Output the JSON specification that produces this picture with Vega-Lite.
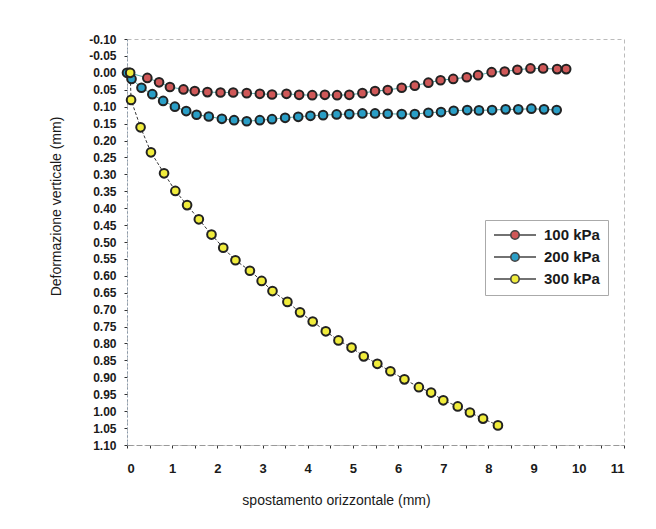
{
  "$schema": "https://vega.github.io/schema/vega-lite/v6.json",
  "width": 497,
  "height": 406,
  "autosize": {"type": "none"},
  "padding": {"left": 127, "top": 39, "right": 32, "bottom": 84},
  "background": "white",
  "config": {
    "font": "Liberation Sans",
    "view": {"stroke": "#bbbbbb", "strokeDash": [4, 3], "strokeWidth": 1},
    "axis": {"grid": false, "labelFont": "Liberation Sans", "labelColor": "#1a1a1a", "labelFontWeight": "bold", "titleFont": "Liberation Sans", "titleColor": "#1a1a1a", "titleFontWeight": "normal", "labelFontSize": 12, "titleFontSize": 14, "tickColor": "#333", "tickSize": 3, "domainColor": "#8899aa", "domainDash": [2, 2]}
  },
  "data": {"values": [
    {"s": "100 kPa", "x": 0.05, "y": 0.0},
    {"s": "100 kPa", "x": 0.45, "y": 0.015},
    {"s": "100 kPa", "x": 0.71, "y": 0.028},
    {"s": "100 kPa", "x": 0.95, "y": 0.042},
    {"s": "100 kPa", "x": 1.25, "y": 0.049},
    {"s": "100 kPa", "x": 1.5, "y": 0.054},
    {"s": "100 kPa", "x": 1.78, "y": 0.057},
    {"s": "100 kPa", "x": 2.07, "y": 0.058},
    {"s": "100 kPa", "x": 2.35, "y": 0.058},
    {"s": "100 kPa", "x": 2.65, "y": 0.06},
    {"s": "100 kPa", "x": 2.94, "y": 0.062},
    {"s": "100 kPa", "x": 3.21, "y": 0.064},
    {"s": "100 kPa", "x": 3.53, "y": 0.062},
    {"s": "100 kPa", "x": 3.81, "y": 0.065},
    {"s": "100 kPa", "x": 4.1, "y": 0.066},
    {"s": "100 kPa", "x": 4.38, "y": 0.065},
    {"s": "100 kPa", "x": 4.65, "y": 0.066},
    {"s": "100 kPa", "x": 4.92, "y": 0.065},
    {"s": "100 kPa", "x": 5.21, "y": 0.06},
    {"s": "100 kPa", "x": 5.49, "y": 0.054},
    {"s": "100 kPa", "x": 5.77, "y": 0.051},
    {"s": "100 kPa", "x": 6.08, "y": 0.044},
    {"s": "100 kPa", "x": 6.37, "y": 0.038},
    {"s": "100 kPa", "x": 6.67, "y": 0.029},
    {"s": "100 kPa", "x": 6.94, "y": 0.022},
    {"s": "100 kPa", "x": 7.22, "y": 0.018},
    {"s": "100 kPa", "x": 7.52, "y": 0.013},
    {"s": "100 kPa", "x": 7.77, "y": 0.007},
    {"s": "100 kPa", "x": 8.07, "y": -0.002},
    {"s": "100 kPa", "x": 8.36, "y": -0.004},
    {"s": "100 kPa", "x": 8.64, "y": -0.009},
    {"s": "100 kPa", "x": 8.93, "y": -0.013},
    {"s": "100 kPa", "x": 9.21, "y": -0.013},
    {"s": "100 kPa", "x": 9.52, "y": -0.011},
    {"s": "100 kPa", "x": 9.72, "y": -0.011},
    {"s": "200 kPa", "x": 0.0, "y": 0.0},
    {"s": "200 kPa", "x": 0.1, "y": 0.018},
    {"s": "200 kPa", "x": 0.32, "y": 0.044},
    {"s": "200 kPa", "x": 0.56, "y": 0.063},
    {"s": "200 kPa", "x": 0.8, "y": 0.083},
    {"s": "200 kPa", "x": 1.06, "y": 0.1},
    {"s": "200 kPa", "x": 1.31, "y": 0.113},
    {"s": "200 kPa", "x": 1.54, "y": 0.124},
    {"s": "200 kPa", "x": 1.81, "y": 0.129},
    {"s": "200 kPa", "x": 2.1, "y": 0.136},
    {"s": "200 kPa", "x": 2.37, "y": 0.14},
    {"s": "200 kPa", "x": 2.65, "y": 0.143},
    {"s": "200 kPa", "x": 2.94, "y": 0.14},
    {"s": "200 kPa", "x": 3.21, "y": 0.137},
    {"s": "200 kPa", "x": 3.5, "y": 0.133},
    {"s": "200 kPa", "x": 3.79, "y": 0.13},
    {"s": "200 kPa", "x": 4.06, "y": 0.127},
    {"s": "200 kPa", "x": 4.34, "y": 0.125},
    {"s": "200 kPa", "x": 4.64, "y": 0.123},
    {"s": "200 kPa", "x": 4.92, "y": 0.122},
    {"s": "200 kPa", "x": 5.21, "y": 0.12},
    {"s": "200 kPa", "x": 5.49, "y": 0.12},
    {"s": "200 kPa", "x": 5.77, "y": 0.121},
    {"s": "200 kPa", "x": 6.08, "y": 0.122},
    {"s": "200 kPa", "x": 6.37, "y": 0.122},
    {"s": "200 kPa", "x": 6.67, "y": 0.118},
    {"s": "200 kPa", "x": 6.95, "y": 0.116},
    {"s": "200 kPa", "x": 7.23, "y": 0.112},
    {"s": "200 kPa", "x": 7.53, "y": 0.11},
    {"s": "200 kPa", "x": 7.79, "y": 0.111},
    {"s": "200 kPa", "x": 8.08, "y": 0.11},
    {"s": "200 kPa", "x": 8.38, "y": 0.108},
    {"s": "200 kPa", "x": 8.66, "y": 0.108},
    {"s": "200 kPa", "x": 8.95, "y": 0.106},
    {"s": "200 kPa", "x": 9.23, "y": 0.108},
    {"s": "200 kPa", "x": 9.51, "y": 0.11},
    {"s": "300 kPa", "x": 0.07, "y": 0.0},
    {"s": "300 kPa", "x": 0.09, "y": 0.08},
    {"s": "300 kPa", "x": 0.3, "y": 0.161},
    {"s": "300 kPa", "x": 0.53, "y": 0.235},
    {"s": "300 kPa", "x": 0.82, "y": 0.297},
    {"s": "300 kPa", "x": 1.07, "y": 0.349},
    {"s": "300 kPa", "x": 1.33, "y": 0.391},
    {"s": "300 kPa", "x": 1.59, "y": 0.433},
    {"s": "300 kPa", "x": 1.87, "y": 0.478},
    {"s": "300 kPa", "x": 2.13, "y": 0.517},
    {"s": "300 kPa", "x": 2.4, "y": 0.554},
    {"s": "300 kPa", "x": 2.72, "y": 0.585},
    {"s": "300 kPa", "x": 2.98, "y": 0.615},
    {"s": "300 kPa", "x": 3.22, "y": 0.645},
    {"s": "300 kPa", "x": 3.55, "y": 0.677},
    {"s": "300 kPa", "x": 3.83, "y": 0.708},
    {"s": "300 kPa", "x": 4.11, "y": 0.735},
    {"s": "300 kPa", "x": 4.4, "y": 0.764},
    {"s": "300 kPa", "x": 4.68, "y": 0.791},
    {"s": "300 kPa", "x": 4.97, "y": 0.812},
    {"s": "300 kPa", "x": 5.24, "y": 0.838},
    {"s": "300 kPa", "x": 5.54, "y": 0.86},
    {"s": "300 kPa", "x": 5.83, "y": 0.882},
    {"s": "300 kPa", "x": 6.14, "y": 0.906},
    {"s": "300 kPa", "x": 6.46, "y": 0.929},
    {"s": "300 kPa", "x": 6.73, "y": 0.945},
    {"s": "300 kPa", "x": 7.0, "y": 0.968},
    {"s": "300 kPa", "x": 7.32, "y": 0.986},
    {"s": "300 kPa", "x": 7.59, "y": 1.004},
    {"s": "300 kPa", "x": 7.88, "y": 1.022},
    {"s": "300 kPa", "x": 8.21, "y": 1.042}
  ]},
  "encoding": {
    "x": {"field": "x", "type": "quantitative",
      "scale": {"domain": [0, 11], "nice": false, "zero": false},
      "axis": {"title": "spostamento orizzontale (mm)", "values": [0,0.5,1,1.5,2,2.5,3,3.5,4,4.5,5,5.5,6,6.5,7,7.5,8,8.5,9,9.5,10,10.5,11],
        "labelExpr": "datum.value % 1 == 0 ? format(datum.value, 'd') : ''", "labelFontSize": 13, "labelPadding": 14, "titleX": 209, "titleY": 48, "domainColor": "#999999", "domainDash": [6, 3]}},
    "y": {"field": "y", "type": "quantitative",
      "scale": {"domain": [-0.1, 1.1], "nice": false, "zero": false, "reverse": true},
      "axis": {"title": "Deformazione verticale (mm)", "values": [-0.1,-0.05,0,0.05,0.1,0.15,0.2,0.25,0.3,0.35,0.4,0.45,0.5,0.55,0.6,0.65,0.7,0.75,0.8,0.85,0.9,0.95,1,1.05,1.1],
        "labelExpr": "replace(format(datum.value, '.2f'), '\u2212', '-')", "labelPadding": 8, "titleX": -64, "titleY": 167}}
  },
  "layer": [
    {"mark": {"type": "line", "strokeWidth": 1},
      "encoding": {
        "detail": {"field": "s"},
        "stroke": {"field": "s", "legend": null, "scale": {"domain": ["100 kPa", "200 kPa", "300 kPa"], "range": ["#3b9c9c", "#3b9c9c", "#333333"]}},
        "strokeDash": {"field": "s", "legend": null, "scale": {"domain": ["100 kPa", "200 kPa", "300 kPa"], "range": [[1, 0], [1, 0], [3, 2]]}}
      }},
    {"mark": {"type": "point", "filled": true, "size": 75, "opacity": 1, "stroke": "#222222", "strokeWidth": 2, "shape": "circle"},
      "encoding": {
        "fill": {"field": "s", "type": "nominal",
          "scale": {"domain": ["100 kPa", "200 kPa", "300 kPa"], "range": ["#cf5858", "#2a9ec6", "#f0ec3c"]},
          "legend": {"title": null, "orient": "none", "legendX": 358, "legendY": 181, "strokeColor": "#aaaaaa", "padding": 8, "labelFontSize": 15, "labelFontWeight": "bold", "labelFont": "Liberation Sans", "labelColor": "#1a1a1a", "symbolSize": 1764, "clipHeight": 14, "symbolStrokeColor": "#444444", "symbolStrokeWidth": 1.6, "symbolType": "M-1,0L-0.2,0M0.2,0L1,0M-0.2,0A0.2,0.2,0,1,1,0.2,0A0.2,0.2,0,1,1,-0.2,0Z", "rowPadding": 7, "labelOffset": 7}}
      }}
  ],
  "resolve": {"legend": {"fill": "independent", "stroke": "independent", "strokeDash": "independent"}}
}
